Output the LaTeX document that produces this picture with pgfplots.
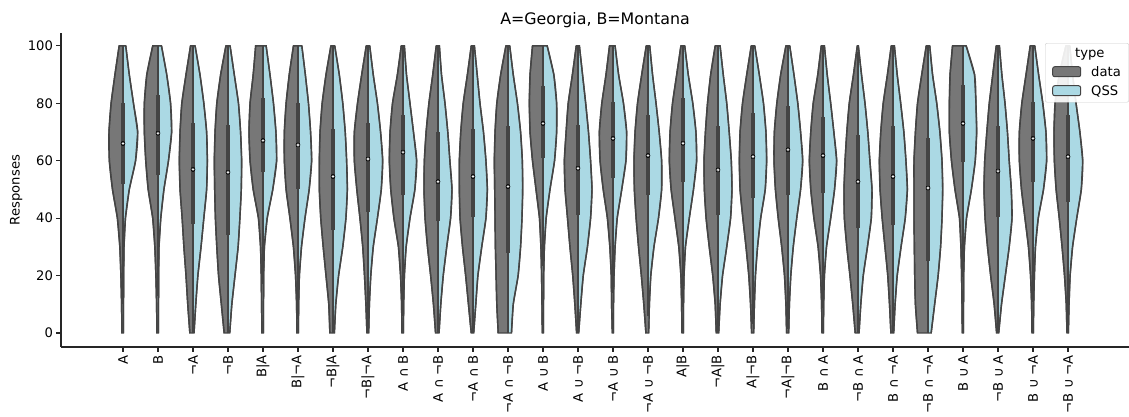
\documentclass[border=0pt]{standalone}
\usepackage{fontspec}
\setmainfont{DejaVu Sans}
\usepackage{pgfplots}
\usepackage{pgfplotstable}
\pgfplotsset{compat=1.18}

\definecolor{datagray}{HTML}{777777}
\definecolor{qssblue}{HTML}{ABD9E4}
\definecolor{edgegray}{HTML}{444444}
\definecolor{spine}{HTML}{262626}

% Half-widths of each split violin (in category units) at response levels 0..100.
% l<k> = left half (data), r<k> = right half (QSS) of category k.
% The first and last rows sit on the centre line, so each half closes along it.
\pgfplotstableread{
y   l0 r0  l1 r1  l2 r2  l3 r3  l4 r4  l5 r5  l6 r6  l7 r7  l8 r8  l9 r9  l10 r10  l11 r11  l12 r12  l13 r13  l14 r14  l15 r15  l16 r16  l17 r17  l18 r18  l19 r19  l20 r20  l21 r21  l22 r22  l23 r23  l24 r24  l25 r25  l26 r26  l27 r27
0   0 0  0 0  0 0  0 0  0 0  0 0  0 0  0 0  0 0  0 0  0 0  0 0  0 0  0 0  0 0  0 0  0 0  0 0  0 0  0 0  0 0  0 0  0 0  0 0  0 0  0 0  0 0  0 0
0   0.03 0.01  0.03 0.01  0.09 0.03  0.11 0.05  0.03 0.01  0.03 0.01  0.09 0.04  0.03 0.02  0.03 0.01  0.07 0.03  0.05 0.02  0.28 0.10  0.02 0.01  0.04 0.02  0.02 0.01  0.06 0.02  0.03 0.01  0.05 0.02  0.04 0.02  0.04 0.02  0.03 0.01  0.08 0.03  0.06 0.02  0.30 0.09  0.02 0.01  0.04 0.02  0.03 0.01  0.03 0.01
10  0.04 0.015  0.04 0.015  0.15 0.08  0.19 0.11  0.04 0.015  0.04 0.02  0.12 0.08  0.06 0.04  0.04 0.02  0.13 0.08  0.13 0.08  0.32 0.15  0.03 0.015  0.09 0.08  0.04 0.015  0.12 0.04  0.04 0.015  0.08 0.06  0.07 0.04  0.06 0.04  0.04 0.02  0.15 0.08  0.10 0.06  0.36 0.19  0.03 0.015  0.11 0.10  0.04 0.02  0.05 0.03
20  0.06 0.02  0.06 0.02  0.20 0.14  0.27 0.20  0.05 0.02  0.07 0.04  0.20 0.16  0.10 0.08  0.07 0.04  0.21 0.15  0.21 0.14  0.34 0.29  0.04 0.02  0.15 0.15  0.05 0.03  0.19 0.08  0.06 0.03  0.15 0.13  0.12 0.07  0.10 0.08  0.07 0.04  0.23 0.15  0.15 0.12  0.38 0.29  0.04 0.02  0.21 0.21  0.07 0.04  0.10 0.06
30  0.09 0.03  0.09 0.03  0.26 0.23  0.32 0.29  0.07 0.04  0.13 0.10  0.28 0.28  0.15 0.15  0.13 0.09  0.30 0.25  0.30 0.25  0.36 0.36  0.06 0.04  0.23 0.27  0.09 0.06  0.27 0.17  0.12 0.07  0.25 0.25  0.20 0.13  0.18 0.15  0.14 0.10  0.32 0.27  0.23 0.23  0.39 0.36  0.06 0.04  0.30 0.32  0.13 0.07  0.17 0.13
40  0.16 0.07  0.15 0.08  0.31 0.31  0.36 0.34  0.13 0.12  0.23 0.20  0.35 0.37  0.23 0.27  0.26 0.20  0.37 0.36  0.37 0.37  0.37 0.40  0.10 0.09  0.30 0.36  0.16 0.12  0.34 0.30  0.23 0.18  0.34 0.36  0.29 0.22  0.28 0.25  0.26 0.22  0.39 0.38  0.31 0.35  0.40 0.40  0.10 0.10  0.37 0.40  0.23 0.15  0.25 0.25
50  0.30 0.18  0.28 0.17  0.37 0.39  0.38 0.38  0.28 0.28  0.34 0.32  0.39 0.41  0.32 0.38  0.35 0.34  0.40 0.40  0.39 0.41  0.38 0.42  0.20 0.20  0.37 0.40  0.28 0.25  0.39 0.39  0.34 0.30  0.39 0.40  0.37 0.35  0.36 0.36  0.35 0.33  0.40 0.40  0.37 0.41  0.40 0.42  0.23 0.24  0.40 0.38  0.33 0.30  0.34 0.38
60  0.39 0.36  0.35 0.30  0.39 0.41  0.39 0.39  0.37 0.39  0.39 0.39  0.39 0.39  0.39 0.42  0.39 0.39  0.39 0.34  0.39 0.37  0.39 0.41  0.30 0.33  0.39 0.36  0.37 0.37  0.40 0.39  0.39 0.39  0.40 0.38  0.39 0.39  0.40 0.42  0.39 0.39  0.37 0.34  0.39 0.37  0.40 0.40  0.33 0.35  0.38 0.32  0.39 0.39  0.39 0.42
70  0.40 0.42  0.39 0.39  0.37 0.39  0.37 0.36  0.40 0.37  0.39 0.36  0.37 0.35  0.39 0.36  0.37 0.30  0.34 0.28  0.35 0.30  0.37 0.36  0.37 0.39  0.34 0.30  0.39 0.39  0.37 0.32  0.37 0.37  0.36 0.32  0.37 0.37  0.39 0.36  0.35 0.31  0.32 0.28  0.35 0.31  0.36 0.34  0.39 0.39  0.32 0.27  0.39 0.37  0.40 0.34
80  0.34 0.30  0.39 0.36  0.32 0.31  0.32 0.30  0.37 0.30  0.34 0.30  0.31 0.28  0.30 0.27  0.30 0.20  0.26 0.20  0.28 0.20  0.32 0.27  0.39 0.39  0.28 0.22  0.32 0.30  0.30 0.23  0.30 0.28  0.30 0.25  0.30 0.30  0.32 0.28  0.28 0.22  0.25 0.20  0.28 0.22  0.30 0.25  0.39 0.37  0.25 0.20  0.32 0.28  0.37 0.23
90  0.23 0.18  0.32 0.25  0.20 0.20  0.21 0.18  0.28 0.20  0.25 0.21  0.20 0.18  0.18 0.15  0.16 0.10  0.15 0.10  0.16 0.12  0.21 0.15  0.37 0.31  0.16 0.13  0.20 0.16  0.18 0.13  0.18 0.15  0.21 0.15  0.18 0.18  0.21 0.17  0.15 0.12  0.13 0.10  0.16 0.12  0.18 0.13  0.37 0.33  0.15 0.11  0.20 0.16  0.25 0.13
100 0.11 0.08  0.15 0.10  0.07 0.06  0.06 0.06  0.21 0.09  0.13 0.11  0.06 0.05  0.05 0.05  0.05 0.04  0.05 0.04  0.05 0.04  0.06 0.05  0.30 0.12  0.05 0.04  0.10 0.06  0.05 0.05  0.06 0.05  0.08 0.06  0.05 0.05  0.06 0.05  0.05 0.04  0.02 0.01  0.05 0.04  0.05 0.05  0.30 0.09  0.05 0.04  0.08 0.05  0.06 0.05
100 0 0  0 0  0 0  0 0  0 0  0 0  0 0  0 0  0 0  0 0  0 0  0 0  0 0  0 0  0 0  0 0  0 0  0 0  0 0  0 0  0 0  0 0  0 0  0 0  0 0  0 0  0 0  0 0
}\shapes

% Inner box of each violin: whisker ends, quartiles and median.
\pgfplotstableread{
x  lo   q1   med  q3   hi
0  10   52   66   80   100
1  13   55   69.6 83   100
2  0    38   57   73   100
3  0    34   56   72.5 100
4  17   56   67   82   100
5  5    50   65.5 80   100
6  0    36   54.5 71   100
7  0    42   60.6 73   100
8  6    48   63   76   100
9  0    39   52.7 70   100
10 0    40.5 54.5 71   100
11 0    28   51   72   100
12 23.5 61   73   86   100
13 0    41   57.4 72.5 100
14 14   54   67.8 80.6 100
15 6    48   61.8 76   100
16 9    52.7 66.1 81.8 100
17 0    41   56.8 72   100
18 3    47   61.4 76.5 100
19 1.5  48   63.8 79   100
20 8.6  48.7 61.8 75.4 100
21 0    36.5 52.7 69   98
22 0    37.6 54.5 72   100
23 0    25   50.5 68   100
24 19.6 59.7 73   86.4 100
25 0    40.5 56.4 72   100
26 10.8 52.7 67.8 80.6 100
27 0.5  45.8 61.4 76   100
}\boxes

\begin{document}
\begin{tikzpicture}
\path[use as bounding box] (0,0) rectangle (1129bp,417bp);
\begin{axis}[
  at={(61bp,70bp)}, anchor=south west,
  scale only axis, width=1068bp, height=314bp,
  xmin=-1.771, xmax=28.743, ymin=-4.88, ymax=104.5,
  axis lines*=left,
  axis line style={-, draw=spine, line width=1.1bp},
  tick align=outside,
  major tick length=4.5bp,
  tick style={draw=spine, line width=1.1bp},
  xtick={0,...,27},
  xticklabels={A, B, ¬A, ¬B, B|A, B|¬A, ¬B|A, ¬B|¬A, A ∩ B, A ∩ ¬B, ¬A ∩ B, ¬A ∩ ¬B, A ∪ B, A ∪ ¬B, ¬A ∪ B, ¬A ∪ ¬B, A|B, ¬A|B, A|¬B, ¬A|¬B, B ∩ A, ¬B ∩ A, B ∩ ¬A, ¬B ∩ ¬A, B ∪ A, ¬B ∪ A, B ∪ ¬A, ¬B ∪ ¬A},
  xticklabel style={rotate=90, anchor=east, font=\fontsize{13.2}{15}\selectfont},
  ytick={0,20,...,100},
  yticklabel style={font=\fontsize{13.2}{15}\selectfont},
  /pgf/number format/assume math mode=true,
  ylabel={Responses},
  ylabel style={at={(axis description cs:-0.0388,0.5)}, anchor=base, font=\fontsize{13.2}{15}\selectfont},
  title={\fontsize{15.9}{18}\selectfont A=Georgia, B=Montana},
  title style={at={(axis description cs:0.5,1)}, anchor=base, yshift=3bp},
  legend style={at={(1,0.968)}, anchor=north east, draw=black!20, fill=white, fill opacity=0.9, text opacity=1, rounded corners=2bp, font=\fontsize{13.2}{15}\selectfont, inner xsep=7bp, inner ysep=3bp, row sep=4bp, nodes={inner sep=1bp, text height=10bp, text depth=3bp}, /tikz/every odd column/.append style={column sep=9bp}},
  legend cell align=left,
]

% split violins: grey data half on the left, blue QSS half on the right;
% each half is filled as a polygon and outlined by a smooth curve
\pgfplotsinvokeforeach{0,...,27}{
  \addplot[fill=datagray, draw=edgegray, line width=1.4bp, forget plot]
    table[x expr=#1-\thisrow{l#1}, y=y] {\shapes};
  \addplot[fill=qssblue, draw=edgegray, line width=1.4bp, forget plot]
    table[x expr=#1+\thisrow{r#1}, y=y] {\shapes};
  \addplot[draw=edgegray, line width=1.4bp, smooth, forget plot,
    skip coords between index={0}{1}, skip coords between index={12}{13}]
    table[x expr=#1-\thisrow{l#1}, y=y] {\shapes};
  \addplot[draw=edgegray, line width=1.4bp, smooth, forget plot,
    skip coords between index={0}{1}, skip coords between index={12}{13}]
    table[x expr=#1+\thisrow{r#1}, y=y] {\shapes};
}

% whiskers
\addplot[only marks, mark=none, forget plot,
  error bars/.cd, y dir=both, y explicit, error mark=none,
  error bar style={line width=1.5bp, draw=edgegray}]
  table[x=x, y=med, y error plus expr=\thisrow{hi}-\thisrow{med}, y error minus expr=\thisrow{med}-\thisrow{lo}] {\boxes};
% interquartile boxes
\addplot[only marks, mark=none, forget plot,
  error bars/.cd, y dir=both, y explicit, error mark=none,
  error bar style={line width=4.8bp, draw=edgegray}]
  table[x=x, y=med, y error plus expr=\thisrow{q3}-\thisrow{med}, y error minus expr=\thisrow{med}-\thisrow{q1}] {\boxes};
% medians
\addplot[only marks, mark=*, mark size=1.6bp, mark options={fill=white, draw=edgegray, line width=0.4bp}, forget plot]
  table[x=x, y=med] {\boxes};

\addlegendimage{empty legend}
\addlegendentry{\hspace{-16bp}type}
\addlegendimage{legend image code/.code={\draw[fill=datagray, draw=edgegray, line width=1bp, fill opacity=1] (0bp,-4bp) rectangle (28bp,6bp);}}
\addlegendentry{data}
\addlegendimage{legend image code/.code={\draw[fill=qssblue, draw=edgegray, line width=1bp, fill opacity=1] (0bp,-4bp) rectangle (28bp,6bp);}}
\addlegendentry{QSS}
\end{axis}
\end{tikzpicture}
\end{document}
